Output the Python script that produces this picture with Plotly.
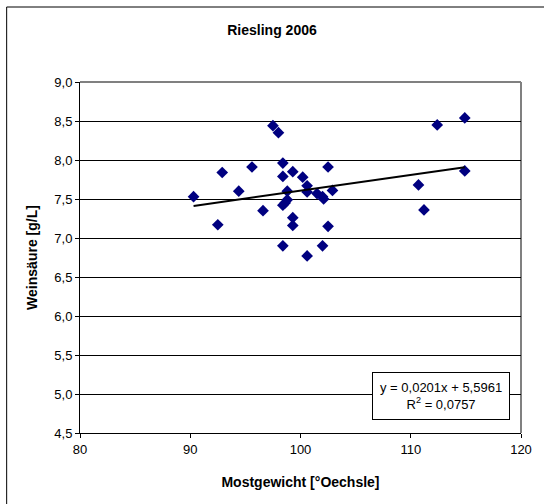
import plotly.graph_objects as go

# Mostgewicht (°Oechsle) and Weinsäure (g/L) per sample
mostgewicht = [90.3, 92.5, 92.9, 94.4, 95.6, 97.5, 98.0, 98.4, 98.4, 99.3,
               100.2, 102.5, 100.6, 100.6, 98.8, 101.5, 102.0, 102.1, 102.9, 98.8,
               98.6, 98.4, 96.6, 99.3, 99.3, 102.5, 98.4, 102.0, 100.6, 112.4,
               114.9, 114.9, 110.7, 111.2]
weinsaeure = [7.53, 7.17, 7.84, 7.60, 7.91, 8.44, 8.35, 7.96, 7.79, 7.85,
              7.78, 7.91, 7.67, 7.59, 7.60, 7.57, 7.53, 7.50, 7.61, 7.49,
              7.45, 7.42, 7.35, 7.26, 7.16, 7.15, 6.90, 6.90, 6.77, 8.45,
              8.54, 7.86, 7.68, 7.36]

# Linear trend line coefficients and coefficient of determination
slope = 0.0201
intercept = 5.5961
r_squared = 0.0757

y_ticks = [4.5, 5.0, 5.5, 6.0, 6.5, 7.0, 7.5, 8.0, 8.5, 9.0]
x_ticks = [80, 90, 100, 110, 120]

FONT = "Liberation Sans, Arial, sans-serif"

x_lo, x_hi = min(mostgewicht), max(mostgewicht)

fig = go.Figure()
fig.add_trace(go.Scatter(
    x=mostgewicht, y=weinsaeure, mode="markers",
    marker=dict(symbol="diamond", size=9, color="#000080",
                line=dict(width=0)),
    showlegend=False, hoverinfo="x+y",
))
fig.add_trace(go.Scatter(
    x=[x_lo, x_hi], y=[slope * x_lo + intercept, slope * x_hi + intercept],
    mode="lines", line=dict(color="black", width=2),
    showlegend=False, hoverinfo="skip",
))

def de(v, d):
    return f"{v:.{d}f}".replace(".", ",")

eq_text = (f"y = {de(slope, 4)}x + {de(intercept, 4)}<br>"
           f"R<sup>2</sup> = {de(r_squared, 4)}")

fig.update_layout(
    width=544, height=504,
    margin=dict(l=80, r=19, t=82, b=71),
    paper_bgcolor="white", plot_bgcolor="white",
    separators=",.",
    font=dict(family=FONT, size=12, color="black"),
    title=dict(text="<b>Riesling 2006</b>", x=0.5, xanchor="center",
               y=1 - 30 / 504, yanchor="middle",
               font=dict(family=FONT, size=14, color="black")),
    xaxis=dict(range=[80, 120], tickvals=x_ticks, ticks="outside", ticklen=4,
               tickcolor="black", showline=True, linecolor="black", linewidth=1,
               showgrid=False, zeroline=False,
               tickfont=dict(size=13),
               title=dict(text="<b>Mostgewicht [°Oechsle]</b>", standoff=21,
                          font=dict(size=14))),
    yaxis=dict(range=[4.5, 9.0], tickvals=y_ticks, tickformat=".1f",
               ticks="outside", ticklen=4, tickcolor="black",
               showline=True, linecolor="black", linewidth=1,
               showgrid=True, gridcolor="black", gridwidth=1, zeroline=False,
               tickfont=dict(size=13),
               title=dict(text="<b>Weinsäure [g/L]</b>", standoff=13,
                          font=dict(size=14))),
    shapes=[
        # plot area frame (top and right in grey)
        dict(type="line", xref="paper", yref="paper", x0=0, x1=1, y0=1, y1=1,
             line=dict(color="#808080", width=2), layer="below"),
        dict(type="line", xref="paper", yref="paper", x0=1, x1=1, y0=0, y1=1,
             line=dict(color="#808080", width=2), layer="below"),
        # chart area frame
        dict(type="line", xref="paper", yref="paper",
             x0=-74 / 445, x1=-74 / 445, y0=-80 / 351, y1=(82 - 7) / 351 + 1,
             line=dict(color="black", width=1)),
        dict(type="line", xref="paper", yref="paper",
             x0=-74 / 445, x1=1.5, y0=(82 - 7) / 351 + 1, y1=(82 - 7) / 351 + 1,
             line=dict(color="black", width=1)),
    ],
    annotations=[
        dict(text=eq_text, x=119.0, y=5.28, xref="x", yref="y",
             xanchor="right", yanchor="top", showarrow=False, align="center",
             bgcolor="white", bordercolor="black", borderwidth=1, borderpad=7,
             font=dict(family=FONT, size=13, color="black")),
    ],
)

fig.write_html("out.html")
